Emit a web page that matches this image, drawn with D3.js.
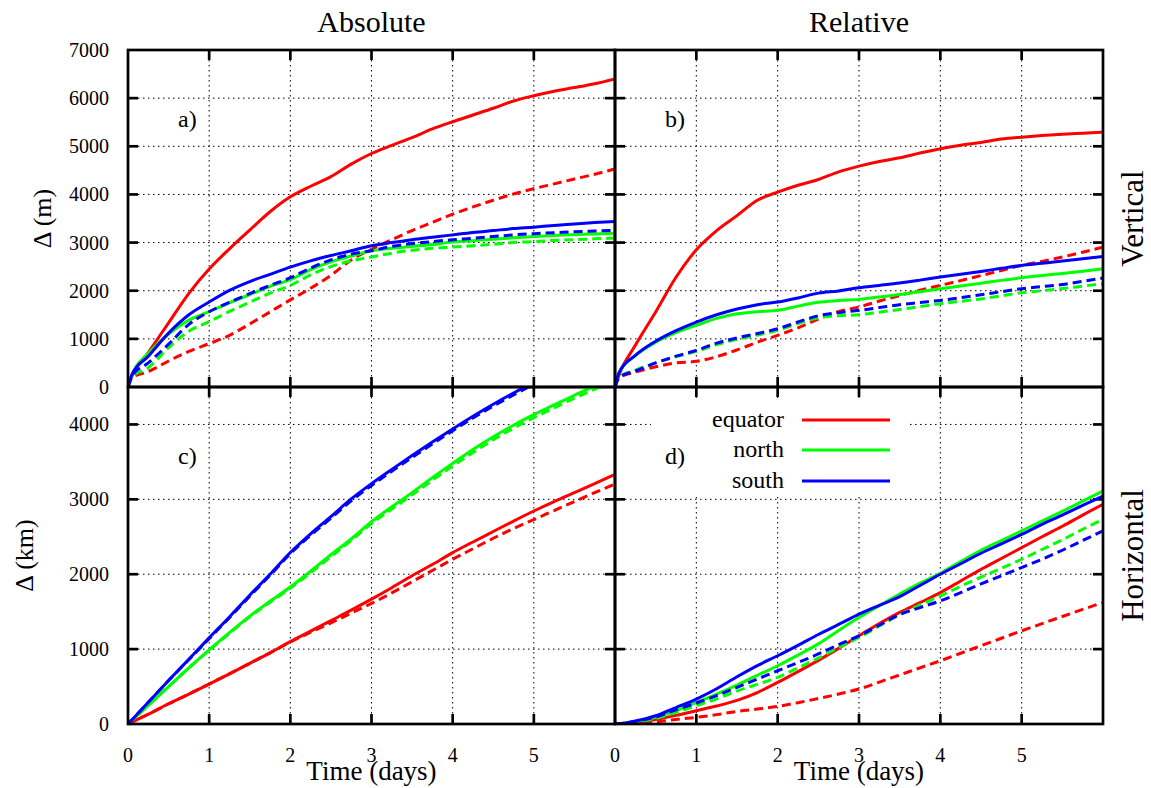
<!DOCTYPE html>
<html>
<head>
<meta charset="utf-8">
<script src="https://cdn.jsdelivr.net/npm/d3@7"></script>
<style>
  body { margin: 0; background: #fff; }
  svg { font-family: "Liberation Serif", "DejaVu Serif", serif; }
</style>
</head>
<body>
<svg width="1151" height="788"></svg>
<script>
// time axis (days)
const days = [0, 0.05, 0.25, 0.5, 0.75, 1, 1.25, 1.5, 1.75, 2, 2.25, 2.5, 2.75, 3, 3.25, 3.5, 3.75, 4, 4.25, 4.5, 4.75, 5, 5.25, 5.5, 5.75, 6];
const regions = ['equator', 'north', 'south'];
const colors = ['#ff0000', '#00ff00', '#0000ff'];

// a) absolute, vertical (m)
const absVertEquator     = [0, 230, 717, 1332, 1946, 2450, 2870, 3260, 3640, 3950, 4170, 4370, 4630, 4850, 5020, 5180, 5360, 5510, 5650, 5790, 5940, 6050, 6145, 6220, 6300, 6400];
const absVertEquatorDash = [0, 190, 320, 540, 740, 900, 1073, 1310, 1560, 1810, 2050, 2320, 2640, 2860, 3060, 3250, 3420, 3590, 3740, 3880, 4010, 4120, 4220, 4320, 4420, 4530];
const absVertNorth       = [0, 250, 700, 1100, 1390, 1564, 1750, 1920, 2090, 2230, 2440, 2600, 2720, 2830, 2880, 2920, 2960, 3010, 3040, 3070, 3100, 3125, 3149, 3165, 3180, 3197];
const absVertNorthDash   = [0, 210, 400, 820, 1160, 1356, 1570, 1760, 1950, 2110, 2330, 2500, 2620, 2700, 2780, 2840, 2880, 2906, 2935, 2965, 3000, 3020, 3045, 3060, 3078, 3093];
const absVertSouth       = [0, 260, 640, 1120, 1500, 1765, 2007, 2190, 2340, 2490, 2620, 2730, 2830, 2935, 3000, 3060, 3110, 3160, 3210, 3250, 3290, 3320, 3356, 3385, 3415, 3440];
const absVertSouthDash   = [0, 230, 500, 890, 1300, 1564, 1760, 1940, 2110, 2270, 2470, 2640, 2760, 2830, 2920, 2980, 3020, 3059, 3090, 3125, 3160, 3185, 3204, 3225, 3240, 3252];

// b) relative, vertical (m)
const relVertEquator     = [0, 250, 865, 1560, 2280, 2850, 3250, 3560, 3880, 4048, 4190, 4310, 4470, 4588, 4685, 4760, 4860, 4948, 5020, 5080, 5150, 5190, 5223, 5250, 5272, 5294];
const relVertEquatorDash = [0, 190, 310, 420, 500, 533, 630, 770, 930, 1073, 1230, 1410, 1570, 1661, 1785, 1900, 2010, 2111, 2210, 2315, 2420, 2526, 2610, 2700, 2800, 2906];
const relVertNorth       = [0, 300, 650, 930, 1130, 1280, 1425, 1520, 1565, 1592, 1680, 1760, 1795, 1820, 1870, 1920, 1980, 2041, 2100, 2155, 2215, 2270, 2315, 2358, 2405, 2457];
const relVertNorthDash   = [0, 210, 350, 500, 630, 740, 880, 990, 1080, 1176, 1320, 1440, 1480, 1502, 1555, 1610, 1670, 1730, 1780, 1830, 1895, 1958, 2000, 2045, 2095, 2145];
const relVertSouth       = [0, 300, 657, 950, 1170, 1349, 1500, 1620, 1710, 1765, 1850, 1950, 1995, 2062, 2110, 2160, 2220, 2284, 2340, 2400, 2465, 2526, 2570, 2615, 2665, 2713];
const relVertSouthDash   = [0, 200, 330, 500, 640, 761, 910, 1020, 1110, 1211, 1350, 1480, 1545, 1592, 1650, 1710, 1755, 1799, 1855, 1915, 1980, 2041, 2085, 2130, 2195, 2263];

// c) absolute, horizontal (km)
const absHorEquator      = [0, 27, 130, 270, 400, 533, 670, 810, 950, 1100, 1240, 1380, 1520, 1667, 1820, 1980, 2130, 2289, 2430, 2570, 2710, 2844, 2970, 3090, 3210, 3333];
const absHorEquatorDash  = [0, 27, 130, 270, 400, 533, 670, 810, 950, 1095, 1225, 1350, 1480, 1610, 1750, 1900, 2050, 2200, 2340, 2480, 2610, 2730, 2850, 2970, 3090, 3204];
const absHorNorth        = [0, 50, 250, 500, 750, 990, 1220, 1440, 1640, 1830, 2040, 2260, 2470, 2700, 2900, 3090, 3290, 3480, 3665, 3835, 3990, 4130, 4260, 4390, 4510, 4630];
const absHorNorthDash    = [0, 50, 250, 500, 750, 985, 1210, 1430, 1625, 1815, 2020, 2235, 2450, 2675, 2870, 3060, 3255, 3445, 3625, 3795, 3950, 4090, 4220, 4350, 4470, 4590];
const absHorSouth        = [0, 58, 290, 580, 865, 1150, 1430, 1720, 2000, 2290, 2540, 2770, 3005, 3210, 3400, 3585, 3765, 3940, 4110, 4270, 4420, 4560, 4690, 4810, 4930, 5040];
const absHorSouthDash    = [0, 58, 290, 580, 860, 1140, 1420, 1705, 1985, 2275, 2520, 2750, 2980, 3185, 3375, 3560, 3740, 3915, 4085, 4245, 4395, 4535, 4665, 4785, 4905, 5015];

// d) relative, horizontal (km)
const relHorEquator      = [0, 2, 20, 60, 115, 178, 240, 315, 420, 555, 700, 850, 1010, 1178, 1340, 1490, 1620, 1755, 1910, 2065, 2210, 2355, 2500, 2640, 2790, 2933];
const relHorEquatorDash  = [0, 1, 10, 30, 60, 89, 125, 168, 200, 235, 285, 340, 400, 467, 560, 655, 750, 844, 945, 1045, 1145, 1244, 1340, 1435, 1530, 1622];
const relHorNorth        = [0, 2, 30, 90, 180, 289, 400, 520, 650, 778, 920, 1070, 1250, 1422, 1580, 1735, 1880, 2013, 2170, 2320, 2450, 2578, 2710, 2840, 2975, 3111];
const relHorNorthDash    = [0, 2, 25, 75, 155, 244, 335, 440, 530, 622, 750, 880, 1020, 1155, 1310, 1460, 1590, 1711, 1840, 1960, 2080, 2200, 2330, 2460, 2600, 2733];
const relHorSouth        = [0, 3, 40, 110, 220, 333, 470, 630, 780, 911, 1050, 1195, 1330, 1467, 1585, 1700, 1850, 2000, 2140, 2280, 2405, 2533, 2665, 2790, 2920, 3044];
const relHorSouthDash    = [0, 2, 35, 95, 190, 280, 380, 490, 600, 711, 820, 935, 1060, 1178, 1320, 1460, 1555, 1644, 1755, 1870, 1980, 2089, 2200, 2320, 2450, 2578];

const xTicks = [0, 1, 2, 3, 4, 5];
const vertTicks = [0, 1000, 2000, 3000, 4000, 5000, 6000, 7000];
const horTicks = [0, 1000, 2000, 3000, 4000];

const svg = d3.select('svg');

const xLeft = 128, xMid = 615, xRight = 1103;
const yTop = 50, yMid = 387, yBot = 724;

const panels = [
  { id: 'a', x0: xLeft, x1: xMid,  y0: yMid, y1: yTop, max: 7000, ticks: vertTicks,
    series: [[absVertEquator, absVertEquatorDash], [absVertNorth, absVertNorthDash], [absVertSouth, absVertSouthDash]],
    yLabels: true, xLabels: false },
  { id: 'b', x0: xMid,  x1: xRight, y0: yMid, y1: yTop, max: 7000, ticks: vertTicks,
    series: [[relVertEquator, relVertEquatorDash], [relVertNorth, relVertNorthDash], [relVertSouth, relVertSouthDash]],
    yLabels: false, xLabels: false },
  { id: 'c', x0: xLeft, x1: xMid,  y0: yBot, y1: yMid, max: 4500, ticks: horTicks,
    series: [[absHorEquator, absHorEquatorDash], [absHorNorth, absHorNorthDash], [absHorSouth, absHorSouthDash]],
    yLabels: true, xLabels: true },
  { id: 'd', x0: xMid,  x1: xRight, y0: yBot, y1: yMid, max: 4500, ticks: horTicks,
    series: [[relHorEquator, relHorEquatorDash], [relHorNorth, relHorNorthDash], [relHorSouth, relHorSouthDash]],
    yLabels: false, xLabels: true }
];

panels.forEach(p => {
  const x = d3.scaleLinear().domain([0, 6]).range([p.x0, p.x1]);
  const y = d3.scaleLinear().domain([0, p.max]).range([p.y0, p.y1]);
  const g = svg.append('g');

  g.append('clipPath').attr('id', 'clip-' + p.id)
    .append('rect')
    .attr('x', p.x0).attr('y', p.y1)
    .attr('width', p.x1 - p.x0).attr('height', p.y0 - p.y1);

  // dotted grid
  const innerX = xTicks.filter(t => t > 0);
  const innerY = p.ticks.filter(t => t > 0 && t < p.max);
  g.selectAll('.gx').data(innerX).enter().append('line')
    .attr('x1', d => x(d)).attr('x2', d => x(d))
    .attr('y1', p.y1).attr('y2', p.y0)
    .attr('stroke', '#000').attr('stroke-width', 1).attr('stroke-dasharray', '1.5,3.5');
  g.selectAll('.gy').data(innerY).enter().append('line')
    .attr('x1', p.x0).attr('x2', p.x1)
    .attr('y1', d => y(d)).attr('y2', d => y(d))
    .attr('stroke', '#000').attr('stroke-width', 1).attr('stroke-dasharray', '1.5,3.5');

  // legend box hides grid in panel d
  if (p.id === 'd') {
    g.append('rect').attr('x', 651).attr('y', 398).attr('width', 258).attr('height', 99).attr('fill', '#fff');
  }

  // inward ticks on all sides
  const tl = 10;
  g.selectAll('.tb').data(innerX).enter().append('line')
    .attr('x1', d => x(d)).attr('x2', d => x(d)).attr('y1', p.y0).attr('y2', p.y0 - tl)
    .attr('stroke', '#000').attr('stroke-width', 2.7);
  g.selectAll('.tt').data(innerX).enter().append('line')
    .attr('x1', d => x(d)).attr('x2', d => x(d)).attr('y1', p.y1).attr('y2', p.y1 + tl)
    .attr('stroke', '#000').attr('stroke-width', 2.7);
  g.selectAll('.tlft').data(innerY).enter().append('line')
    .attr('x1', p.x0).attr('x2', p.x0 + tl).attr('y1', d => y(d)).attr('y2', d => y(d))
    .attr('stroke', '#000').attr('stroke-width', 2.7);
  g.selectAll('.trgt').data(innerY).enter().append('line')
    .attr('x1', p.x1).attr('x2', p.x1 - tl).attr('y1', d => y(d)).attr('y2', d => y(d))
    .attr('stroke', '#000').attr('stroke-width', 2.7);

  // curves
  const line = d3.line().x((d, i) => x(days[i])).y(d => y(d)).curve(d3.curveMonotoneX);
  const lines = g.append('g').attr('clip-path', 'url(#clip-' + p.id + ')');
  p.series.forEach((pair, k) => {
    lines.append('path').datum(pair[1]).attr('d', line)
      .attr('fill', 'none').attr('stroke', colors[k]).attr('stroke-width', 3)
      .attr('stroke-dasharray', '9,5');
    lines.append('path').datum(pair[0]).attr('d', line)
      .attr('fill', 'none').attr('stroke', colors[k]).attr('stroke-width', 3);
  });

  // frame
  g.append('rect').attr('x', p.x0).attr('y', p.y1)
    .attr('width', p.x1 - p.x0).attr('height', p.y0 - p.y1)
    .attr('fill', 'none').attr('stroke', '#000').attr('stroke-width', 2.7);

  // tick labels
  if (p.yLabels) {
    g.selectAll('.yl').data(p.ticks).enter().append('text')
      .attr('x', p.x0 - 19).attr('y', d => y(d)).attr('dy', '0.35em')
      .attr('text-anchor', 'end').attr('font-size', 20).text(d => d);
  }
  if (p.xLabels) {
    g.selectAll('.xl').data(xTicks).enter().append('text')
      .attr('x', d => x(d)).attr('y', p.y0 + 38)
      .attr('text-anchor', 'middle').attr('font-size', 20).text(d => d);
    g.append('text').attr('x', (p.x0 + p.x1) / 2).attr('y', p.y0 + 56)
      .attr('text-anchor', 'middle').attr('font-size', 27).text('Time (days)');
  }

  // panel tag
  g.append('text').attr('x', p.x0 + 50).attr('y', p.y1 + 77)
    .attr('font-size', 24).text(p.id + ')');
});

// titles
svg.append('text').attr('x', (xLeft + xMid) / 2).attr('y', 32).attr('text-anchor', 'middle')
  .attr('font-size', 30).text('Absolute');
svg.append('text').attr('x', (xMid + xRight) / 2).attr('y', 32).attr('text-anchor', 'middle')
  .attr('font-size', 30).text('Relative');

// y-axis titles
svg.append('text').attr('transform', `translate(51,${(yTop + yMid) / 2}) rotate(-90)`)
  .attr('text-anchor', 'middle').attr('font-size', 26).text('Δ (m)');
svg.append('text').attr('transform', `translate(33,${(yMid + yBot) / 2}) rotate(-90)`)
  .attr('text-anchor', 'middle').attr('font-size', 26).text('Δ (km)');

// row titles on the right
svg.append('text').attr('transform', `translate(1143,${(yTop + yMid) / 2}) rotate(-90)`)
  .attr('text-anchor', 'middle').attr('font-size', 31).text('Vertical');
svg.append('text').attr('transform', `translate(1143,${(yMid + yBot) / 2}) rotate(-90)`)
  .attr('text-anchor', 'middle').attr('font-size', 31).text('Horizontal');

// legend
const legendY = [420, 450, 481];
const legend = svg.append('g');
legend.selectAll('text').data(regions).enter().append('text')
  .attr('x', 784).attr('y', (d, i) => legendY[i]).attr('dy', '0.3em')
  .attr('text-anchor', 'end').attr('font-size', 24).text(d => d);
legend.selectAll('line').data(regions).enter().append('line')
  .attr('x1', 802).attr('x2', 890)
  .attr('y1', (d, i) => legendY[i]).attr('y2', (d, i) => legendY[i])
  .attr('stroke', (d, i) => colors[i]).attr('stroke-width', 3);
</script>
</body>
</html>
